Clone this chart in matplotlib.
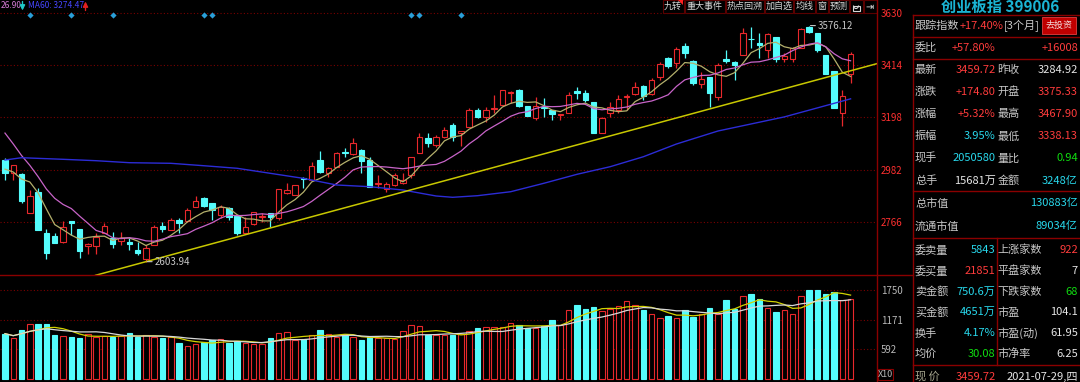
import matplotlib
matplotlib.use("Agg")
import matplotlib.pyplot as plt
import numpy as np
import pandas as pd
from matplotlib.patches import Rectangle, Polygon, Arc

plt.rcParams['font.family'] = ['Noto Sans CJK SC', 'DejaVu Sans']

# ---- daily bars, 创业板指, 103 trading days up to 2021-07-29 ----
opens = [3022.6, 2967.9, 2965.0, 2803.1, 2892.1, 2720.8, 2709.7, 2686.2, 2772.7, 2739.7,
         2668.5, 2668.5, 2720.8, 2700.2, 2689.1, 2686.2, 2652.0, 2613.7, 2672.6, 2750.8,
         2734.4, 2775.5, 2772.7, 2830.3, 2867.4, 2844.3, 2796.1, 2823.7, 2792.0, 2723.2,
         2757.8, 2786.7, 2805.6, 2782.5, 2885.5, 2878.5, 2947.3, 2940.3, 3022.6, 2967.9,
         2995.0, 3056.8, 3047.3, 3063.8, 3022.6, 2922.5, 2902.0, 2919.7, 2926.7, 2960.8,
         3052.7, 3112.0, 3084.4, 3116.1, 3166.7, 3135.0, 3159.7, 3228.5, 3198.5, 3231.4,
         3249.1, 3299.8, 3310.9, 3245.0, 3194.3, 3239.6, 3228.5, 3207.9, 3214.9, 3308.0,
         3299.8, 3260.2, 3132.6, 3214.9, 3228.5, 3280.8, 3294.4, 3327.4, 3294.4, 3363.2,
         3441.4, 3423.3, 3492.1, 3431.5, 3335.6, 3363.2, 3280.8, 3437.3, 3427.4, 3455.0,
         3522.1, 3503.2, 3475.6, 3527.9, 3437.3, 3437.3, 3482.6, 3570.0, 3544.4, 3455.0,
         3389.1, 3214.9, 3375.33]
highs = [3029.6, 3002.0, 2969.1, 2899.1, 2906.0, 2737.3, 2720.8, 2771.4, 2772.7, 2739.7,
         2679.6, 2720.8, 2762.0, 2727.4, 2727.4, 2700.2, 2686.2, 2672.6, 2754.9, 2768.5,
         2782.5, 2782.5, 2823.7, 2874.4, 2871.5, 2846.8, 2837.3, 2830.3, 2796.1, 2786.7,
         2809.7, 2803.1, 2805.6, 2902.0, 2926.7, 2919.7, 2953.9, 3013.1, 3059.7, 2992.6,
         3056.8, 3070.8, 3112.0, 3067.9, 3036.2, 2960.8, 2933.3, 2967.9, 2967.9, 3036.2,
         3132.6, 3132.6, 3125.6, 3159.7, 3176.2, 3142.0, 3235.5, 3235.5, 3239.6, 3290.3,
         3310.9, 3306.8, 3313.8, 3245.0, 3280.8, 3276.7, 3228.5, 3212.0, 3303.9, 3324.5,
         3310.9, 3260.2, 3200.9, 3262.7, 3290.3, 3294.4, 3345.1, 3331.5, 3359.1, 3427.4,
         3448.0, 3489.2, 3503.2, 3434.4, 3386.2, 3363.2, 3420.8, 3475.6, 3431.5, 3565.0,
         3571.5, 3544.4, 3545.6, 3527.9, 3462.0, 3489.2, 3565.0, 3576.12, 3544.4, 3455.0,
         3389.1, 3310.9, 3467.90]
lows = [2940.3, 2940.3, 2844.3, 2803.1, 2734.4, 2613.7, 2679.6, 2679.6, 2713.8, 2617.8,
        2634.3, 2635.5, 2720.8, 2659.0, 2672.6, 2652.0, 2631.4, 2603.94, 2672.6, 2727.4,
        2734.4, 2720.8, 2768.5, 2827.8, 2830.3, 2775.5, 2782.5, 2775.5, 2713.8, 2720.8,
        2754.9, 2768.5, 2747.9, 2775.5, 2882.6, 2878.5, 2906.0, 2940.3, 2967.9, 2953.9,
        2992.6, 3036.2, 3043.2, 2967.9, 2912.7, 2906.0, 2892.1, 2915.5, 2923.8, 2947.3,
        3052.7, 3074.9, 3077.4, 3112.0, 3102.1, 3080.3, 3159.7, 3194.3, 3180.3, 3214.9,
        3249.1, 3256.1, 3239.6, 3203.8, 3187.3, 3200.9, 3187.3, 3187.3, 3214.9, 3272.6,
        3262.7, 3132.6, 3132.6, 3200.9, 3214.9, 3228.5, 3290.3, 3269.7, 3290.3, 3352.1,
        3400.2, 3400.2, 3441.4, 3331.5, 3317.9, 3242.1, 3269.7, 3423.3, 3352.1, 3455.0,
        3482.6, 3441.4, 3442.7, 3427.4, 3427.4, 3427.4, 3482.6, 3544.4, 3468.6, 3376.8,
        3235.5, 3162.6, 3338.13]
closes = [2970.3, 3002.0, 2853.8, 2874.4, 2734.4, 2638.4, 2682.1, 2747.9, 2764.4, 2649.1,
          2675.5, 2704.3, 2750.8, 2676.7, 2700.2, 2675.5, 2640.9, 2659.0, 2747.9, 2737.3,
          2775.5, 2762.0, 2816.7, 2855.0, 2833.2, 2816.7, 2827.8, 2786.7, 2723.2, 2747.9,
          2809.7, 2792.0, 2786.7, 2902.0, 2899.1, 2919.7, 2943.1, 2997.9, 2974.5, 2988.5,
          3052.7, 3050.2, 3091.4, 3019.7, 2912.7, 2926.7, 2923.8, 2960.8, 2940.3, 3033.7,
          3116.1, 3093.9, 3116.1, 3146.2, 3116.1, 3142.0, 3228.5, 3200.9, 3228.5, 3235.5,
          3310.9, 3303.9, 3245.0, 3203.8, 3245.0, 3235.5, 3212.0, 3212.0, 3290.3, 3299.8,
          3269.7, 3132.6, 3194.3, 3239.6, 3272.6, 3286.2, 3322.0, 3286.2, 3352.1, 3416.7,
          3409.7, 3478.5, 3462.0, 3338.5, 3354.9, 3297.3, 3413.8, 3431.5, 3413.8, 3544.4,
          3519.7, 3496.2, 3540.3, 3437.3, 3450.9, 3482.6, 3560.8, 3548.5, 3475.6, 3376.8,
          3235.5, 3284.92, 3459.72]
# closes of the 9 sessions before the window (for the MA5 / MA10 start)
prior_closes = [3450, 3330, 3280, 3200, 3150, 3062, 2999, 2934, 2960]

volumes = [896, 817, 975, 1079, 1093, 1093, 862, 842, 838, 809,
           896, 838, 842, 825, 842, 915, 825, 862, 825, 809,
           825, 710, 651, 698, 730, 763, 789, 710, 750, 718,
           698, 698, 803, 915, 928, 776, 783, 862, 961, 896,
           838, 862, 825, 763, 825, 809, 809, 796, 941, 1073,
           1040, 862, 862, 862, 876, 896, 941, 1014, 1026, 1026,
           1026, 1113, 1073, 1014, 1014, 1040, 1158, 1073, 1355, 1454,
           1375, 1421, 1342, 1389, 1434, 1539, 1454, 1355, 1290, 1211,
           1243, 1211, 1355, 1224, 1290, 1408, 1290, 1553, 1389, 1632,
           1671, 1586, 1408, 1322, 1369, 1290, 1632, 1750, 1763, 1671,
           1717, 1553, 1586]

# MA60 (bar index, value)
ma60_idx = [0, 2, 7, 11, 15, 20, 24, 28, 32, 36, 40, 44, 48, 52, 54, 57,
            61, 65, 69, 73, 77, 81, 86, 94, 102]
ma60_val = [3022.6, 3032.0, 3025.5, 3019.7, 3011.5, 3009.0, 2999.0, 2988.5, 2967.8,
            2947.0, 2919.7, 2912.7, 2899.0, 2874.4, 2869.0, 2875.6, 2892.0, 2926.7,
            2963.7, 2995.0, 3036.0, 3088.5, 3142.0, 3200.0, 3274.47]

# user trend line through the low
trend_idx = [17, 102]
trend_val = [2603.94, 3390.0]

event_idx = [3, 8, 13, 24, 25, 49, 50, 55]

price_ticks = [3630, 3414, 3198, 2982, 2766]
vol_ticks = [1750, 1171, 592]

buttons = ["九转", "重大事件", "热点回溯", "加自选", "均线", "窗", "预测"]
button_x = [662.7, 684.5, 725.5, 765.0, 794.0, 815.5, 829.0, 849.5]

title = "创业板指 399006"
quote_left = ["最新", "涨跌", "涨幅", "振幅", "现手", "总手"]
quote_left_val = ["3459.72", "+174.80", "+5.32%", "3.95%", "2050580", "15681万"]
quote_right = ["昨收", "开盘", "最高", "最低", "量比", "金额"]
quote_right_val = ["3284.92", "3375.33", "3467.90", "3338.13", "0.94", "3248亿"]
cap_labels = ["总市值", "流通市值"]
cap_vals = ["130883亿", "89034亿"]
book_left = ["委卖量", "委买量", "卖金额", "买金额", "换手", "均价"]
book_left_val = ["5843", "21851", "750.6万", "4651万", "4.17%", "30.08"]
book_right = ["上涨家数", "平盘家数", "下跌家数", "市盈", "市盈(动)", "市净率"]
book_right_val = ["922", "7", "68", "104.1", "61.95", "6.25"]

# ---- colours ----
BG = 'black'
RED = '#e8282c'
CYAN = '#54fcfc'
GRID = '#7a0000'
FRAME = '#8a0000'
LBL = '#c8c8c8'
VRED = '#ff3c3c'
VCYAN = '#28d8ec'
VGREEN = '#10dc10'
VWHITE = '#e6e6e6'

quote_left_col = [VRED, VRED, VRED, VCYAN, VCYAN, VWHITE]
quote_right_col = [VWHITE, VRED, VRED, VRED, VGREEN, VCYAN]
book_left_col = [VCYAN, VRED, VCYAN, VCYAN, VCYAN, VGREEN]
book_right_col = [VRED, VWHITE, VGREEN, VWHITE, VWHITE, VWHITE]

W, H = 1080, 382
PANE_R = 876.7
SPLIT = 275.3

fig = plt.figure(figsize=(W / 100, H / 100), dpi=100, facecolor=BG)
ax = fig.add_axes([0, 1 - SPLIT / H, PANE_R / W, SPLIT / H])
axv = fig.add_axes([0, 0, PANE_R / W, (H - SPLIT) / H])

for a in (ax, axv):
    a.set_facecolor(BG)
    for s in a.spines.values():
        s.set_visible(False)
    a.set_xticks([])
    a.yaxis.tick_right()
    a.tick_params(axis='y', length=0, pad=3, labelsize=7)
    a.set_xlim(-0.6, 105.15)

ax.set_ylim(2547.8, 3681.5)
axv.set_ylim(-59, 2049)

idx = np.arange(len(closes))
o = np.array(opens)
c = np.array(closes)
hi = np.array(highs)
lo = np.array(lows)
up = c >= o
cols = np.where(up, RED, CYAN)
faces = np.where(up, BG, CYAN)

# grid
for v in price_ticks:
    ax.axhline(v, color=GRID, lw=0.8, ls=(0, (1, 2)), zorder=1)
for v in vol_ticks:
    axv.axhline(v, color=GRID, lw=0.8, ls=(0, (1, 2)), zorder=1)

# candles
ax.vlines(idx, lo, hi, colors=cols, lw=0.9, zorder=2)
ax.bar(idx, np.abs(c - o), bottom=np.minimum(o, c), width=0.66,
       color=faces, edgecolor=cols, linewidth=0.8, zorder=3)

# moving averages
allc = pd.Series(prior_closes + closes, dtype=float)
n0 = len(prior_closes)
ma5 = allc.rolling(5).mean().to_numpy()[n0:]
ma10 = allc.rolling(10).mean().to_numpy()[n0:]
ax.plot(idx, ma5, color='#b4b06c', lw=0.9, zorder=4)
ax.plot(idx, ma10, color='#c864c8', lw=0.9, zorder=4)
ax.plot(ma60_idx, ma60_val, color='#2c2cd6', lw=1.0, zorder=4)
ax.axline((trend_idx[0], trend_val[0]), (trend_idx[1], trend_val[1]),
          color='#c8c800', lw=1.1, zorder=4)

# event markers
ax.scatter(event_idx, [0.944] * len(event_idx), transform=ax.get_xaxis_transform(),
           marker='D', s=10, color='#2a9fd8', zorder=5, linewidths=0)

# high / low marks
ih = int(np.argmax(hi))
il = int(np.argmin(lo))
for i, v in ((ih, hi[ih]), (il, lo[il])):
    ax.annotate(f"{v:.2f}", xy=(i, v), xytext=(9, 0), textcoords='offset pixels',
                ha='left', va='center', fontsize=7, color=LBL, zorder=6,
                arrowprops=dict(arrowstyle='-', color=LBL, lw=0.8, shrinkA=0, shrinkB=1))

ax.set_yticks(price_ticks)
ax.tick_params(axis='y', labelcolor='#ff3030')

# volume
axv.bar(idx, volumes, width=0.66, color=faces, edgecolor=cols, linewidth=0.8, zorder=3)
vs = pd.Series(volumes, dtype=float)
axv.plot(idx, vs.rolling(5, min_periods=1).mean(), color='#d2d200', lw=0.9, zorder=4)
axv.plot(idx, vs.rolling(10, min_periods=1).mean(), color='#d8d8d8', lw=0.9, zorder=4)
axv.set_yticks(vol_ticks)
axv.tick_params(axis='y', labelcolor='#b8b8b8')

# ---- overlay in pixel coordinates ----
ov = fig.add_axes([0, 0, 1, 1])
ov.set_xlim(0, W)
ov.set_ylim(H, 0)
ov.axis('off')

ov.plot([PANE_R, PANE_R], [0, H], color=FRAME, lw=1)
ov.plot([0, 913.3], [SPLIT, SPLIT], color=FRAME, lw=1)

# MA legend (only its tail is visible in the cropped view)
ov.text(0.5, 6, "26.90", ha='left', va='center', fontsize=6, color='#d47ad4')
ov.annotate("", xy=(22.5, 10.5), xytext=(22.5, 1.5),
            arrowprops=dict(arrowstyle='-|>,head_length=0.3,head_width=0.15',
                            color='#20c8c8', lw=1, shrinkA=0, shrinkB=0))
ov.text(27.7, 6, "MA60: 3274.47", ha='left', va='center', fontsize=6, color='#4646ff')
ov.annotate("", xy=(85.5, 1.5), xytext=(85.5, 10.5),
            arrowprops=dict(arrowstyle='-|>,head_length=0.3,head_width=0.15',
                            color='#e02020', lw=1, shrinkA=0, shrinkB=0))

# tool buttons
for k, lab in enumerate(buttons):
    x0, x1 = button_x[k], button_x[k + 1] - 1
    ov.add_patch(Rectangle((x0, 0), x1 - x0, 12.5, fc=BG, ec='#5a0000', lw=0.8))
    ov.text((x0 + x1) / 2, 6.5, lab, ha='center', va='center', fontsize=6.5, color='#d8d8d8')
ov.add_patch(Polygon([[678, 0], [683, 0], [683, 5]], closed=True, fc='#ff2020', ec='none'))
# lock + exit icons
ov.add_patch(Rectangle((849.5, 0), 13, 12.5, fc=BG, ec='#5a0000', lw=0.8))
ov.add_patch(Rectangle((852.5, 5.5), 7, 5.5, fc='none', ec='#d8d8d8', lw=0.8))
ov.add_patch(Arc((856, 5.5), 5, 6, theta1=0, theta2=180, ec='#d8d8d8', lw=0.8))
ov.add_patch(Rectangle((863.5, 0), 13, 12.5, fc=BG, ec='#5a0000', lw=0.8))
ov.text(870, 6.5, "⇥", ha='center', va='center', fontsize=7, color='#d8d8d8')

# X10 box
ov.add_patch(Rectangle((878, 369), 15, 11, fc='none', ec=FRAME, lw=0.8))
ov.text(885.5, 374.5, "X10", ha='center', va='center', fontsize=6.5, color='#b8b8b8')

# ---- right info table ----
TL, TR, TM = 913.3, 1080, 997.3
ov.text(1000, 6.5, title, ha='center', va='center', fontsize=11, fontweight='bold',
        color='#1ab4d4')
ov.plot([TL, TL], [15, H], color=FRAME, lw=1)
for yy in (15, 37.3, 59, 190.7, 238.3, 365):
    ov.plot([TL, TR], [yy, yy], color=FRAME, lw=1)
ov.plot([TM, TM], [238.3, 365], color=FRAME, lw=1)

FS = 8
ov.text(915, 25.7, "跟踪指数", ha='left', va='center', fontsize=FS, color=LBL)
ov.text(1003.5, 25.7, "+17.40%", ha='right', va='center', fontsize=FS, color=VRED)
ov.text(1004, 25.7, "[3个月]", ha='left', va='center', fontsize=FS, color=LBL)
ov.add_patch(Rectangle((1041.7, 17.3), 34, 16.7, fc='#c00000', ec='#e04040', lw=0.6))
ov.text(1058.7, 25.7, "去投资", ha='center', va='center', fontsize=6.5, color='#f4dcdc')

ov.text(915, 47.7, "委比", ha='left', va='center', fontsize=FS, color=LBL)
ov.text(995.5, 47.7, "+57.80%", ha='right', va='center', fontsize=FS, color=VRED)
ov.text(1078, 47.7, "+16008", ha='right', va='center', fontsize=FS, color=VRED)

for k in range(len(quote_left)):
    yy = 70 + k * 22.1
    ov.text(915, yy, quote_left[k], ha='left', va='center', fontsize=FS, color=LBL)
    ov.text(995.5, yy, quote_left_val[k], ha='right', va='center', fontsize=FS,
            color=quote_left_col[k])
    ov.text(997.5, yy, quote_right[k], ha='left', va='center', fontsize=FS, color=LBL)
    ov.text(1078, yy, quote_right_val[k], ha='right', va='center', fontsize=FS,
            color=quote_right_col[k])

for k in range(len(cap_labels)):
    yy = 203.3 + k * 22.7
    ov.text(915, yy, cap_labels[k], ha='left', va='center', fontsize=FS, color=LBL)
    ov.text(1078, yy, cap_vals[k], ha='right', va='center', fontsize=FS, color=VCYAN)

for k in range(len(book_left)):
    yy = 250 + k * 20.8
    ov.text(915, yy, book_left[k], ha='left', va='center', fontsize=FS, color=LBL)
    ov.text(995.5, yy, book_left_val[k], ha='right', va='center', fontsize=FS,
            color=book_left_col[k])
    ov.text(997.5, yy, book_right[k], ha='left', va='center', fontsize=FS, color=LBL)
    ov.text(1078, yy, book_right_val[k], ha='right', va='center', fontsize=FS,
            color=book_right_col[k])

ov.text(915, 376.7, "现 价", ha='left', va='center', fontsize=FS, color='#a8a890')
ov.text(996, 376.7, "3459.72", ha='right', va='center', fontsize=FS, color=VRED)
ov.text(1078, 376.7, "2021-07-29,四", ha='right', va='center', fontsize=FS, color=VWHITE)

fig.savefig('out.png', dpi=100, facecolor=BG)
